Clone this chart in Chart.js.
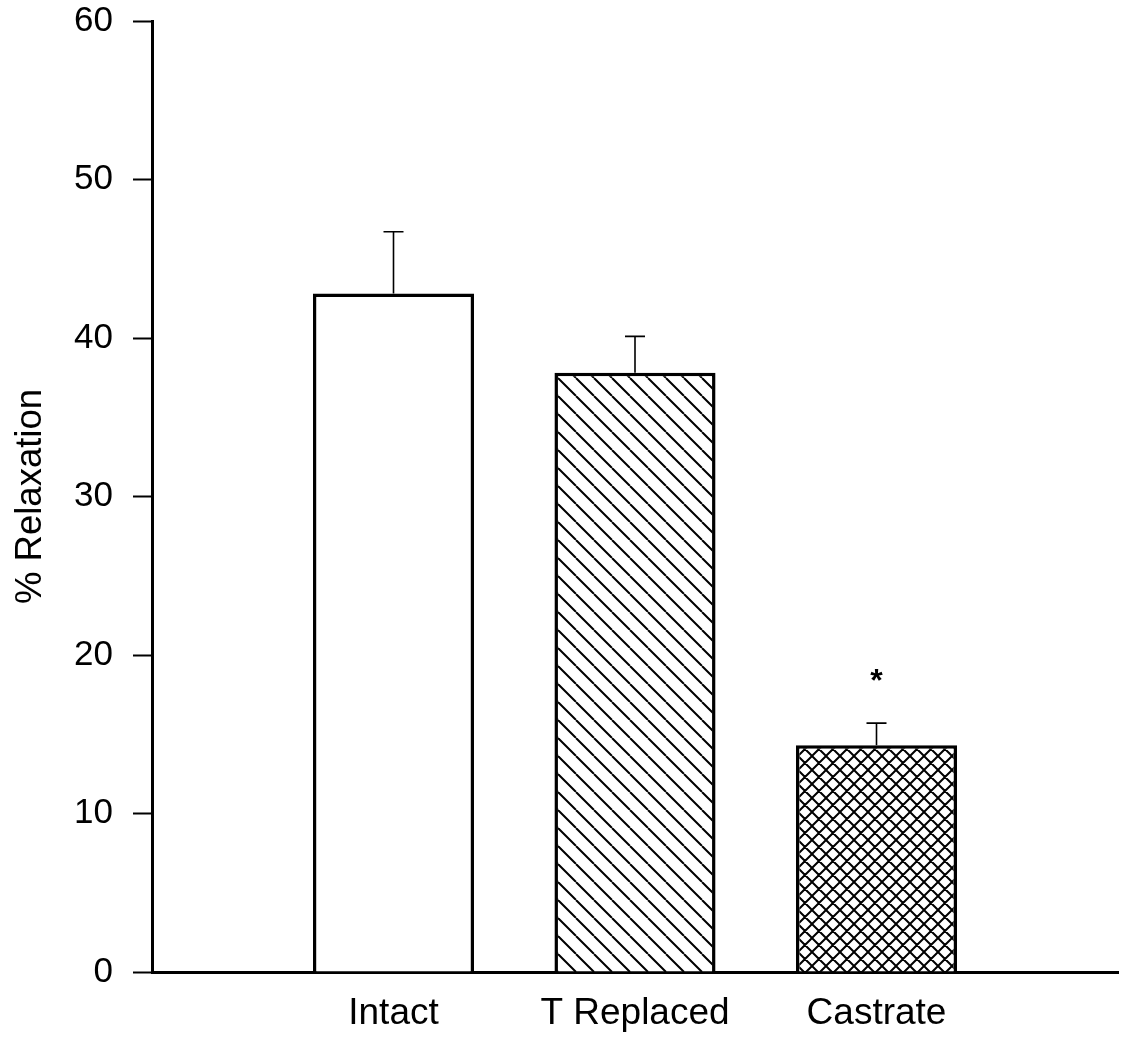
<!DOCTYPE html>
<html>
<head>
<meta charset="utf-8">
<script src="https://cdn.jsdelivr.net/npm/chart.js@4.4.1/dist/chart.umd.min.js"></script>
<style>
  html, body { margin: 0; padding: 0; background: #fff; }
  #wrap { width: 1122px; height: 1043px; }
</style>
</head>
<body>
<div id="wrap"><canvas id="relaxChart" width="1122" height="1043"></canvas></div>
<script>
const categories = ['Intact', 'T Replaced', 'Castrate'];
const relaxation = [42.8, 37.8, 14.3];
const sem = [3.9, 2.3, 1.4];
const significance = ['', '', '*'];
const yTicks = [0, 10, 20, 30, 40, 50, 60];

const FONT = "'Liberation Sans', Arial, sans-serif";

// hatch tile: 'back' = \\\ lines, 'cross' = both diagonals
function hatch(size, kind) {
  const c = document.createElement('canvas');
  c.width = size;
  c.height = size;
  const g = c.getContext('2d');
  g.fillStyle = '#fff';
  g.fillRect(0, 0, size, size);
  g.strokeStyle = '#000';
  g.lineWidth = 2;
  g.beginPath();
  for (const k of [-size, 0, size]) {
    g.moveTo(k, 0);
    g.lineTo(k + size, size);
    if (kind === 'cross') {
      g.moveTo(k + size, 0);
      g.lineTo(k, size);
    }
  }
  g.stroke();
  return g.createPattern(c, 'repeat');
}

const ctx = document.getElementById('relaxChart').getContext('2d');
const fills = ['#ffffff', hatch(18, 'back'), hatch(14, 'cross')];

// empty slot on each side so the bars sit at 1/4, 2/4, 3/4 of the axis
const labels = ['', ...categories, ''];
const padded = (arr, blank) => [blank, ...arr, blank];

const errorBars = {
  id: 'errorBars',
  afterDatasetsDraw(chart) {
    const g = chart.ctx;
    const y = chart.scales.y;
    const meta = chart.getDatasetMeta(0);
    g.save();
    g.strokeStyle = '#000';
    g.fillStyle = '#000';
    categories.forEach((_, i) => {
      const bar = meta.data[i + 1];
      const top = y.getPixelForValue(relaxation[i] + sem[i]);
      g.lineWidth = 1.6;
      g.beginPath();
      g.moveTo(bar.x, bar.y);
      g.lineTo(bar.x, top);
      g.moveTo(bar.x - 10, top);
      g.lineTo(bar.x + 10, top);
      g.stroke();
      if (significance[i]) {
        g.font = `bold 32px ${FONT}`;
        g.textAlign = 'center';
        g.textBaseline = 'alphabetic';
        g.fillText(significance[i], bar.x, top - 32);
      }
    });
    g.restore();
  },
};

new Chart(ctx, {
  type: 'bar',
  data: {
    labels,
    datasets: [{
      data: padded(relaxation, null),
      backgroundColor: padded(fills, '#fff'),
      borderColor: '#000',
      borderWidth: 3.5,
      borderSkipped: 'start',
      categoryPercentage: 1,
      barPercentage: 0.667,
    }],
  },
  options: {
    responsive: false,
    animation: false,
    devicePixelRatio: 1,
    layout: { padding: { top: 0, right: 4, left: 0, bottom: 0 } },
    plugins: {
      legend: { display: false },
      tooltip: { enabled: false },
    },
    scales: {
      x: {
        type: 'category',
        offset: false,
        afterFit(scale) {
          scale.height = 71;
          scale.paddingLeft = 0;
          scale.paddingRight = 0;
        },
        grid: { drawOnChartArea: false, drawTicks: false },
        border: { display: true, color: '#000', width: 3 },
        ticks: {
          color: '#000',
          padding: 20,
          maxRotation: 0,
          autoSkip: false,
          font: { family: FONT, size: 37, lineHeight: 1.2 },
        },
      },
      y: {
        min: 0,
        max: 60,
        afterFit(scale) {
          scale.width = 152;
          scale.paddingTop = 21;
          scale.paddingBottom = 0;
        },
        afterBuildTicks(scale) { scale.ticks = yTicks.map((v) => ({ value: v })); },
        grid: {
          drawOnChartArea: false,
          drawTicks: true,
          tickLength: 19,
          tickWidth: 2,
          tickColor: '#000',
        },
        border: { display: true, color: '#000', width: 3 },
        ticks: {
          color: '#000',
          padding: 20,
          font: { family: FONT, size: 35, lineHeight: 1.2 },
        },
        title: {
          display: true,
          text: '% Relaxation',
          color: '#000',
          padding: { top: 9, bottom: 0 },
          font: { family: FONT, size: 36.5, lineHeight: 1.2 },
        },
      },
    },
  },
  plugins: [errorBars],
});
</script>
</body>
</html>
